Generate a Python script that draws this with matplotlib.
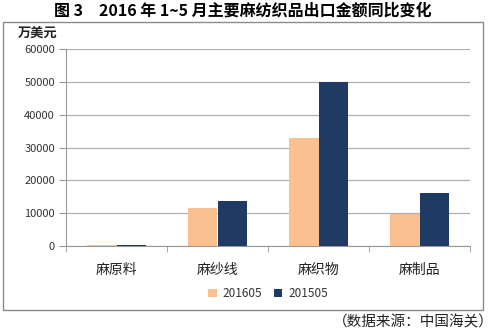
import numpy as np
import matplotlib.pyplot as plt
from matplotlib.patches import Rectangle

plt.rcParams['font.family'] = ['Noto Sans CJK SC', 'DejaVu Sans']

categories = ['麻原料', '麻纱线', '麻织物', '麻制品']
vals_2016 = [250, 11500, 33000, 9800]
vals_2015 = [450, 13600, 50000, 16100]
series_names = ['201605', '201505']
yticks = [0, 10000, 20000, 30000, 40000, 50000, 60000]

W, H = 495, 332
fig = plt.figure(figsize=(W / 100, H / 100), dpi=100)

# outer chart frame
fig.patches.append(Rectangle((3 / W, 1 - 310 / H), 480 / W, 288 / H,
                             transform=fig.transFigure, fill=False,
                             edgecolor='#8c8c8c', linewidth=1.0))

ax = fig.add_axes([66 / W, 1 - 246 / H, 404 / W, 197 / H])
x = np.arange(len(categories))
bw = 0.29
ax.bar(x - bw / 2, vals_2016, bw, color='#FAC090', label=series_names[0], zorder=3)
ax.bar(x + bw / 2, vals_2015, bw, color='#1F3B63', label=series_names[1], zorder=3)

ax.set_xlim(-0.5, len(categories) - 0.5)
ax.set_ylim(0, 60000)
ax.set_yticks(yticks)
ax.set_yticklabels([str(v) for v in yticks], fontsize=8, color='#333333')
ax.yaxis.grid(True, color='#b0b0b0', linewidth=0.9, zorder=0)
ax.set_xticks(x)
ax.set_xticklabels(categories, fontsize=10, color='#222222')
ax.set_xticks(np.arange(len(categories) + 1) - 0.5, minor=True)
ax.tick_params(axis='x', which='major', length=0, pad=12)
ax.tick_params(axis='x', which='minor', length=4, color='#999999')
ax.tick_params(axis='y', length=5, color='#999999', pad=3)
for s in ['top', 'right']:
    ax.spines[s].set_visible(False)
ax.spines['left'].set_color('#999999')
ax.spines['bottom'].set_color('#999999')

leg = ax.legend(loc='upper center', bbox_to_anchor=(0.5, -0.155), ncol=2,
                frameon=False, fontsize=8.5, handlelength=0.7, handleheight=0.7,
                columnspacing=1.0, handletextpad=0.5)
for t in leg.get_texts():
    t.set_color('#333333')

fig.text(0.49, 1 - 11 / H, '图 3　2016 年 1~5 月主要麻纺织品出口金额同比变化',
         ha='center', va='center', fontsize=11.5, fontweight='bold')
fig.text(18 / W, 1 - 33 / H, '万美元', ha='left', va='center',
         fontsize=9.5, fontweight='bold', color='#222222')
fig.text(494 / W, 1 - 322 / H, '（数据来源：中国海关）', ha='right', va='center',
         fontsize=10.5, color='#222222')

fig.savefig('out.png', dpi=100)
